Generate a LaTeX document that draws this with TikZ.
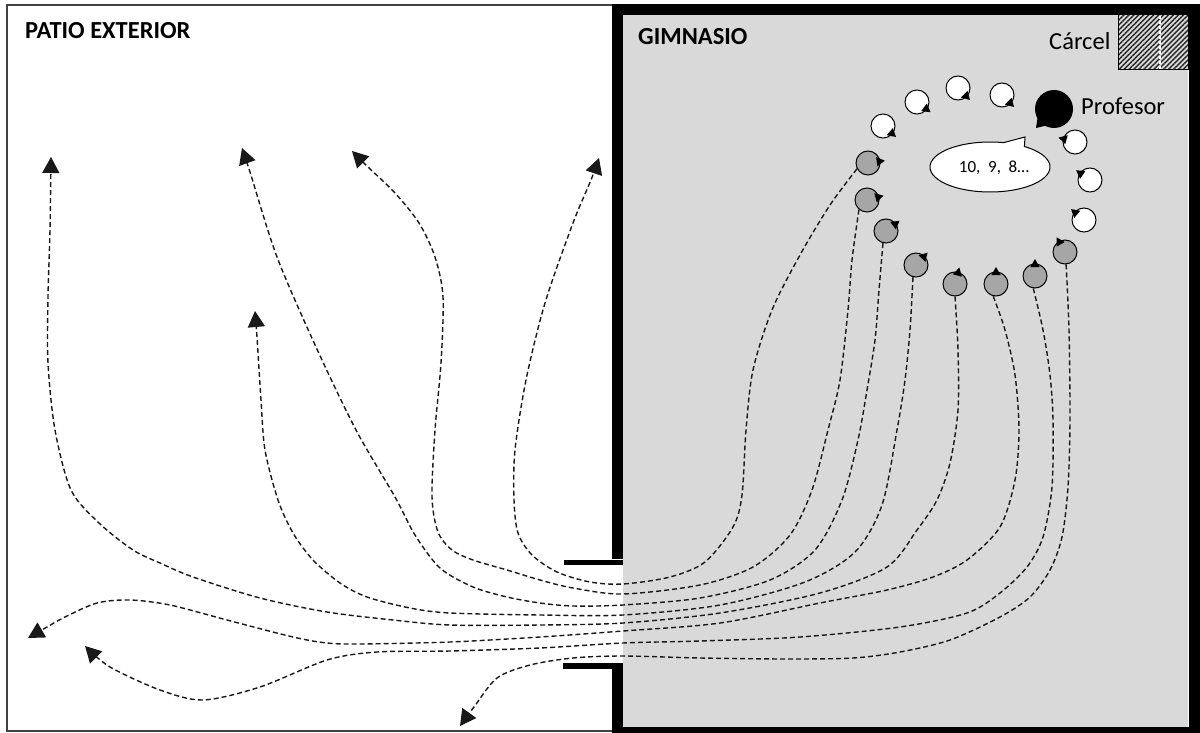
\documentclass[tikz,border=0pt]{standalone}
\usepackage{fontspec}
\setmainfont{Carlito}
\usetikzlibrary{arrows.meta,calc,patterns.meta}
\definecolor{gymgray}{HTML}{D9D9D9}
\definecolor{kidgray}{HTML}{A6A6A6}
\newcommand\placekid[5]{%
  \node[#4] (#1) at (#2,#3) {};
  \fill ($(#1.center)+({#5-28}:10)$) -- ($(#1.center)+(#5:17)$) -- ($(#1.center)+({#5+28}:10)$) -- cycle;}
\begin{document}
\begin{tikzpicture}[x=1pt,y=-1pt,
  kid/.style={circle,draw=black,line width=1pt,minimum size=24pt,inner sep=0pt},
  whitekid/.style={kid,fill=white},
  graykid/.style={kid,fill=kidgray},
  route/.style={draw=black!90,line width=1.4pt,dash pattern=on 5pt off 3pt,-{Triangle[length=16pt,width=17pt]}},
  lbl/.style={font=\fontsize{24.5}{28}\selectfont,inner sep=0pt,anchor=base west},
  wall/.style={line width=11pt}]
\useasboundingbox (0,0) rectangle (1200,733);
% patio
\draw[black!75,line width=1.5pt] (615,5) -- (7,5) -- (7,731) -- (615,731);
% gym
\fill[gymgray] (623,15) rectangle (1188,727);
\draw[wall] (617.5,558.5) -- (617.5,9.5) -- (1194,9.5) -- (1194,732) -- (617.5,732) -- (617.5,663);
\fill (564,560) rectangle (623,564.5);
\fill (563,663) rectangle (623,669);
% carcel
\draw[line width=1pt,pattern={Lines[angle=45,distance=3.5pt,line width=1.4pt]},pattern color=black!85] (1118,15) rectangle (1188,70);
\draw[white,line width=1.5pt,dash pattern=on 3pt off 2pt] (1160,16) -- (1160,69);
% labels
\node[lbl] (patio) at (25,39) {\textbf{PATIO EXTERIOR}};
\node[lbl] (gym) at (638,45) {\textbf{GIMNASIO}};
\node[lbl] (carcel) at (1049,50) {Cárcel};
\node[lbl] (proflbl) at (1081,115) {Profesor};
% profesor
\node[circle,fill=black,minimum size=38pt,inner sep=0pt] (prof) at (1054,109) {};
\fill ($(prof.center)+(160:17)$) -- (1036,128) -- ($(prof.center)+(110:17)$) -- cycle;
% bubble
\draw[fill=white,line width=1pt] plot[domain=305:643,samples=90,variable=\t] ({990+60*cos(\t)},{167+25*sin(\t)}) -- (1025,137) -- cycle;
\node[font=\fontsize{17}{20}\selectfont,inner sep=0pt] (count) at (994,168) {10,\ \ 9,\ \ 8…};
% children
\placekid{w1}{883}{126}{whitekid}{40}
\placekid{w2}{917}{102}{whitekid}{37}
\placekid{w3}{958}{88}{whitekid}{45}
\placekid{w4}{1002}{95}{whitekid}{45}
\placekid{w5}{1075}{142}{whitekid}{195}
\placekid{w6}{1090}{180}{whitekid}{215}
\placekid{w7}{1084}{220}{whitekid}{220}
\placekid{g8}{1065}{252}{graykid}{240}
\placekid{g9}{1035}{276}{graykid}{270}
\placekid{g10}{996}{284}{graykid}{270}
\placekid{g11}{955}{284}{graykid}{285}
\placekid{g12}{916}{265}{graykid}{313}
\placekid{g13}{886}{231}{graykid}{323}
\placekid{g14}{867}{200}{graykid}{345}
\placekid{g15}{868}{163}{graykid}{352}
% arrow targets
\coordinate (tA) at (51,157);
\coordinate (tB) at (242,148);
\coordinate (tC) at (352,151);
\coordinate (tD) at (599,158);
\coordinate (tE) at (255,311);
\coordinate (tF) at (28,638);
\coordinate (tG) at (85,646);
\coordinate (tH) at (460,726);
% routes
\draw[route] plot[smooth,tension=.5] coordinates {(g15.208) (830,205) (800,255) (772,310) (753,370) (746,430) (742,495) (733,527) (705,562) (670,577) (623,584) (590,582) (557,572) (532,555) (518,533) (514,500) (515,450) (526,380) (545,303) (573,223) (591,180) (tD)};
\draw[route] plot[smooth,tension=.5] coordinates {(g14.230) (852,260) (848,310) (840,380) (828,430) (812,490) (790,535) (753,567) (700,585) (623,594) (573,588) (540,580) (507,570) (473,560) (452,550) (438,532) (432,497) (435,430) (441,363) (443,297) (435,257) (419,223) (395,193) (368,167) (tC)};
\draw[route] plot[smooth,tension=.5] coordinates {(g13.256) (879,290) (875,340) (867,390) (858,440) (842,500) (815,550) (770,580) (700,598) (623,605) (573,606) (540,603) (507,597) (473,587) (440,568) (415,535) (395,497) (356,430) (316,347) (277,257) (250,172) (tB)};
\draw[route] plot[smooth,tension=.5] coordinates {(g12.256) (910,330) (905,380) (897,430) (882,505) (855,552) (805,582) (720,605) (623,615) (540,615) (450,613) (410,608) (367,597) (340,583) (313,560) (293,533) (278,500) (265,450) (261,400) (257,337) (tE)};
\draw[route] plot[smooth,tension=.5] coordinates {(g11.270) (958,350) (958,410) (950,463) (937,500) (917,530) (887,567) (820,593) (720,613) (623,623) (540,625) (450,625) (393,620) (327,612) (260,598) (193,577) (160,563) (133,550) (99,523) (71,490) (55,430) (48,363) (48,297) (50,230) (tA)};
\draw[route] plot[smooth,tension=.5] coordinates {(g10.257) (1005,330) (1015,375) (1019,430) (1015,480) (1000,527) (967,560) (933,577) (887,590) (820,603) (720,623) (623,631) (540,637) (450,642) (360,644) (327,643) (293,637) (227,620) (170,605) (130,600) (97,603) (65,617) (47,627) (tF)};
\draw[route] plot[smooth,tension=.5] coordinates {(g9.262) (1043,330) (1050,375) (1053,420) (1052,487) (1043,537) (1027,567) (1000,593) (967,613) (900,627) (800,637) (700,641) (623,643) (540,648) (450,651) (377,652) (327,660) (260,687) (203,700) (160,690) (110,667) (tG)};
\draw[route] plot[smooth,tension=.5] coordinates {(g8.275) (1069,330) (1070,420) (1068,487) (1062,537) (1050,570) (1030,597) (1000,617) (950,640) (900,652) (853,658) (787,659) (700,658) (623,656) (573,658) (530,665) (497,678) (474,707) (tH)};
\end{tikzpicture}
\end{document}
